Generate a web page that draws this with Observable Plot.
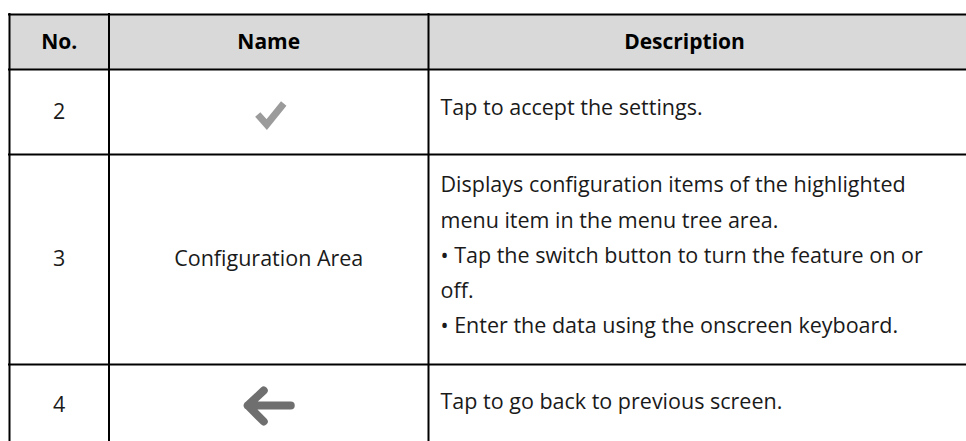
<!DOCTYPE html>
<html><head><meta charset="utf-8">
<script src="https://cdn.jsdelivr.net/npm/d3@7"></script>
<script src="https://cdn.jsdelivr.net/npm/@observablehq/plot@0.6"></script>
<style>html,body{margin:0;padding:0;background:#fff;overflow:hidden}</style>
</head><body><div id="chart"></div>
<script>
// ---- data ----
const headers = ["No.", "Name", "Description"];
const numbers = ["2", "3", "4"];
const names = ["", "Configuration Area", ""];
const icons = ["check", null, "back"];
const descriptions = [
  ["Tap to accept the settings."],
  ["Displays configuration items of the highlighted",
   "menu item in the menu tree area.",
   "• Tap the switch button to turn the feature on or",
   "off.",
   "• Enter the data using the onscreen keyboard."],
  ["Tap to go back to previous screen."]
];

// ---- layout ----
const W = 966, H = 441;
const colEdges = [9, 108.5, 428, 940];   // last edge lies outside the cropped view
const rowEdges = [14, 69, 154, 364, 446];
const font = "Open Sans";
const headSize = 21;
const bodySize = 21.5;
const colCenter = i => (colEdges[i] + colEdges[i + 1]) / 2;
const rowCenter = r => (rowEdges[r] + rowEdges[r + 1]) / 2;

// custom symbol types (drawn in pixel units around the dot position)
const checkSymbol = {draw(ctx, size) {
  const s = Math.sqrt(size / Math.PI);
  ctx.moveTo(-11 * s, 2.5 * s); ctx.lineTo(-2 * s, 12.5 * s); ctx.lineTo(15 * s, -8.5 * s);
}};
const backSymbol = {draw(ctx, size) {
  const s = Math.sqrt(size / Math.PI);
  ctx.moveTo(22 * s, 0); ctx.lineTo(-21 * s, 0);
  ctx.moveTo(-5 * s, -15 * s); ctx.lineTo(-21 * s, 0); ctx.lineTo(-5 * s, 16 * s);
}};

const headerCells = headers.map((text, col) => ({text, col, row: 0}));
const numberCells = numbers.map((text, i) => ({text, col: 0, row: i + 1}));
const nameCells = names.map((text, i) => ({text, col: 1, row: i + 1})).filter(d => d.text);
const descCells = descriptions.map((lines, i) => ({text: lines.join("\n"), col: 2, row: i + 1}));
const iconCells = icons.map((icon, i) => ({icon, col: 1, row: i + 1})).filter(d => d.icon);

const chart = Plot.plot({
  width: W, height: H,
  margin: 0,
  x: {domain: [0, W], range: [0, W], axis: null},
  y: {domain: [0, H], range: [0, H], axis: null},
  style: {fontFamily: font, background: "#fff"},
  marks: [
    Plot.rect([0], {x1: colEdges[0], x2: W, y1: rowEdges[0], y2: rowEdges[1], fill: "#d9d9d9"}),
    Plot.ruleY(rowEdges, {x1: colEdges[0] - 1, x2: W, stroke: "#000", strokeWidth: 2}),
    Plot.ruleX(colEdges.slice(0, 3), {y1: rowEdges[0] - 1, y2: H, stroke: "#000", strokeWidth: 2}),
    Plot.text(headerCells, {x: d => colCenter(d.col), y: d => rowCenter(d.row), text: "text",
      fontSize: headSize, fontWeight: "bold", fill: "#000", fontFamily: font}),
    Plot.text(numberCells, {x: d => colCenter(d.col), y: d => rowCenter(d.row), text: "text",
      fontSize: bodySize, fill: "#1a1a1a", fontFamily: font}),
    Plot.text(nameCells, {x: d => colCenter(d.col), y: d => rowCenter(d.row), text: "text",
      fontSize: bodySize, fill: "#1a1a1a", fontFamily: font}),
    Plot.text(descCells, {x: d => colEdges[d.col] + 12, y: d => rowCenter(d.row), text: "text",
      textAnchor: "start", lineHeight: 1.64, dy: -8, fontSize: bodySize, fill: "#1a1a1a", fontFamily: font}),
    Plot.dot(iconCells.filter(d => d.icon === "check"), {x: d => colCenter(d.col), y: d => rowCenter(d.row),
      r: 1, symbol: checkSymbol, fill: "none", stroke: "#9b9b9b", strokeWidth: 7,
      strokeLinejoin: "miter", strokeLinecap: "butt"}),
    Plot.dot(iconCells.filter(d => d.icon === "back"), {x: d => colCenter(d.col), y: d => rowCenter(d.row),
      r: 1, symbol: backSymbol, fill: "none", stroke: "#6f6f6f", strokeWidth: 8,
      strokeLinejoin: "round", strokeLinecap: "round"})
  ]
});
document.getElementById("chart").appendChild(chart);
</script>
</body></html>
